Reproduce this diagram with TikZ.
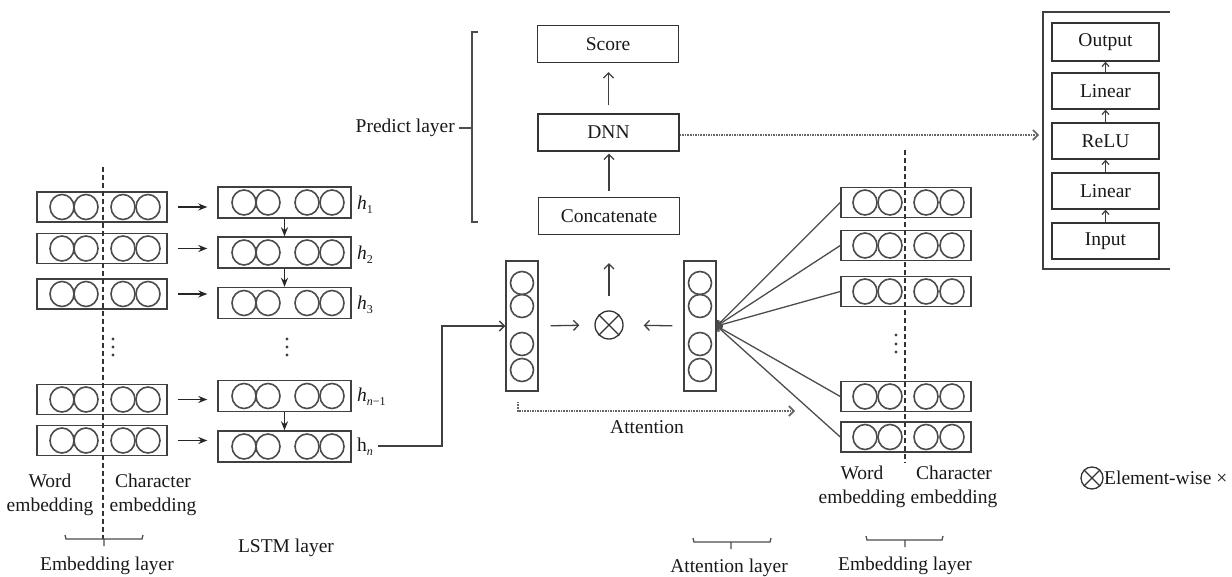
\documentclass[tikz,border=0pt]{standalone}
\usepackage{fontspec}
\setmainfont{Liberation Serif}
\usetikzlibrary{arrows.meta,calc}

% hidden-state label: base letter plus a small lowered subscript
\newcommand{\hstate}[2]{#1\raisebox{-0.45ex}{\fontsize{12}{12}\selectfont #2}}

\begin{document}
\begin{tikzpicture}[x=1pt,y=-1pt,
  every node/.style={font=\fontsize{19.5}{24}\selectfont, text=black!90},
  vec/.style={draw=black!75, line width=1.4pt, inner sep=0pt, minimum width=130pt, minimum height=30pt},
  lvec/.style={vec, minimum width=133pt, minimum height=31pt},
  avec/.style={vec, minimum width=32pt, minimum height=130pt},
  tbox/.style={draw=black!80, line width=1.3pt, inner sep=0pt, minimum width=141pt, minimum height=37pt},
  mbox/.style={draw=black!80, line width=1.3pt, inner sep=0pt, minimum width=107pt, minimum height=36pt},
  unit/.style={draw=black!70, line width=1.6pt},
  sep/.style={draw=black!80, line width=1.2pt, dash pattern=on 5pt off 3pt},
  fillarrow/.style={draw=black!85, line width=1.4pt, -{Stealth[length=9pt,width=7pt]}},
  openarrow/.style={draw=black!75, line width=1.3pt, -{Straight Barb[length=5pt,width=10pt]}},
  thinarrow/.style={draw=black!75, line width=1.2pt, -{Straight Barb[length=4pt,width=7pt]}},
  dotarrow/.style={draw=black!60, line width=1.6pt, densely dotted, -{Straight Barb[length=5pt,width=10pt]}},
  bracketline/.style={draw=black!70, line width=1.3pt},
  dotmark/.style={fill=black!75}
]
\useasboundingbox (0,0) rectangle (1232,577);

% ---------- embedding layer (left) ----------
\foreach \n/\y in {1/207,2/248.5,3/294,4/399.5,5/440.5}{
  \node[vec] (e\n) at (102,\y) {};
  \foreach \x in {62,86,123,148} \draw[unit] (\x,\y) ellipse[x radius=12pt, y radius=12.5pt];
}
\draw[sep] (103,167) -- (103,539);
\foreach \y in {339,347,355} \fill[dotmark] (113,\y) circle[radius=1.7pt];

% ---------- LSTM layer ----------
\foreach \n/\y in {1/202.5,2/252.5,3/303,4/396,5/446.5}{
  \node[lvec] (l\n) at (284.5,\y) {};
  \foreach \x in {244,268,307,332} \draw[unit] (\x,\y) ellipse[x radius=12pt, y radius=12.5pt];
}
\foreach \y in {339,347,355} \fill[dotmark] (287,\y) circle[radius=1.7pt];

\foreach \n in {1,2,3,4,5}
  \draw[fillarrow, shorten <=10pt, shorten >=10pt] (e\n.east) -- (e\n.east -| l\n.west);
\draw[fillarrow] (l1.south) -- (l2.north);
\draw[fillarrow] (l2.south) -- (l3.north);
\draw[fillarrow] (l4.south) -- (l5.north);

\node[anchor=west, inner sep=0pt] (h1) at (357,205) {\hstate{\textit{h}}{1}};
\node[anchor=west, inner sep=0pt] (h2) at (357,255) {\hstate{\textit{h}}{2}};
\node[anchor=west, inner sep=0pt] (h3) at (357,305) {\hstate{\textit{h}}{3}};
\node[anchor=west, inner sep=0pt] (h4) at (357,397) {\hstate{\textit{h}}{\textit{n}\textminus1}};
\node[anchor=west, inner sep=0pt] (h5) at (357,447) {\hstate{h}{\textit{n}}};

\node (wl) at (50,495) [align=center] {Word\\embedding};
\node (cl) at (153,495) [align=center] {Character\\embedding};

% ---------- attention vectors ----------
\node[avec] (av1) at (522,326) {};
\node[avec] (av2) at (700,326) {};
\foreach \x in {522,700}
  \foreach \y in {283,306,344,370} \draw[unit] (\x,\y) circle[radius=11.5pt];

\coordinate (bend) at (442,446);
\draw[openarrow] ([xshift=5pt]h5.east |- bend) -- (bend) |- (av1.west);

\node[draw=black!80, line width=1.3pt, circle, minimum size=28pt, inner sep=0pt] (ot) at (609,325) {};
\draw[black!80, line width=1.3pt] (ot.north west) -- (ot.south east) (ot.north east) -- (ot.south west);
\draw[openarrow, shorten <=12pt, shorten >=15pt] (av1.east) -- (ot.west);
\draw[openarrow, shorten <=11pt, shorten >=20pt] (av2.west) -- (ot.east);

% ---------- prediction layer ----------
\node[tbox] (score) at (608,44) {Score};
\node[tbox] (dnn) at (608.5,132.5) {DNN};
\node[tbox] (cat) at (609,216) {Concatenate};
\draw[openarrow, shorten <=14pt, shorten >=28pt] (ot.north) -- (ot.north |- cat.south);
\draw[openarrow, shorten <=6pt, shorten >=2pt] (cat.north) -- (cat.north |- dnn.south);
\draw[openarrow, shorten <=8pt, shorten >=9pt] (dnn.north) -- (dnn.north |- score.south);

\draw[bracketline] (478,32) -- (472,32) -- (472,222) -- (478,222);
\draw[bracketline] (472,128) -- (459,128);
\node[anchor=east, inner sep=0pt] (pl) at (455,128) {Predict layer};

% ---------- MLP detail ----------
\draw[draw=black!75, line width=1.3pt] (1170,12) -- (1043,12) -- (1043,269) -- (1170,269);
\node[mbox, minimum height=38pt] (m5) at (1105.5,42) {Output};
\node[mbox] (m4) at (1105.5,91) {Linear};
\node[mbox] (m3) at (1105.5,141) {ReLU};
\node[mbox] (m2) at (1105.5,191) {Linear};
\node[mbox] (m1) at (1105.5,241) {Input};
\draw[thinarrow] (m1.north) -- (m2.south);
\draw[thinarrow] (m2.north) -- (m3.south);
\draw[thinarrow] (m3.north) -- (m4.south);
\draw[thinarrow] (m4.north) -- (m5.south);

\coordinate (mlpin) at (1039,135);
\draw[dotarrow] (dnn.east |- mlpin) -- (mlpin);

% ---------- embedding layer (right) ----------
\foreach \n/\y in {1/202.5,2/245.5,3/291.5,4/396.5,5/437}{
  \node[vec] (r\n) at (906,\y) {};
  \foreach \x in {865,890,926,952} \draw[unit] (\x,\y) ellipse[x radius=12pt, y radius=12.5pt];
  \draw[draw=black!70, line width=1.3pt, -{Straight Barb[length=4pt,width=7pt]}] (r\n.west) -- (av2.east);
}
\draw[sep] (905,150) -- (905,463);
\foreach \y in {335,344,352} \fill[dotmark] (896,\y) circle[radius=1.7pt];

\node (wr) at (862,487) [align=center] {Word\\embedding};
\node (cr) at (954,487) [align=center] {Character\\embedding};

% ---------- attention arrow ----------
\coordinate (attend) at (795,411);
\draw[dotarrow] ([xshift=-4pt,yshift=-10pt]av1.south) |- (attend);
\node (attn) at (647,427) {Attention};

% ---------- layer brackets ----------
\draw[bracketline] (65,535) -- (66,539) -- (142,539) -- (143,535) (104,539) -- (104,546);
\node (elL) at (107,566) {Embedding layer};
\node (lstm) at (286,548) {LSTM layer};

\draw[bracketline] (693,538) -- (694,542) -- (770,542) -- (771,538) (731,542) -- (731,549);
\node (al) at (729,568) {Attention layer};

\draw[bracketline] (866,536) -- (867,540) -- (942,540) -- (943,536) (905,540) -- (905,547);
\node (elR) at (905,566) {Embedding layer};

% ---------- legend ----------
\node[draw=black!80, line width=1.3pt, circle, minimum size=22pt, inner sep=0pt] (lg) at (1092,478) {};
\draw[black!80, line width=1.3pt] (lg.north west) -- (lg.south east) (lg.north east) -- (lg.south west);
\node[anchor=west, inner sep=0pt] (lgt) at (1104,478) {Element-wise ×};
\end{tikzpicture}
\end{document}
